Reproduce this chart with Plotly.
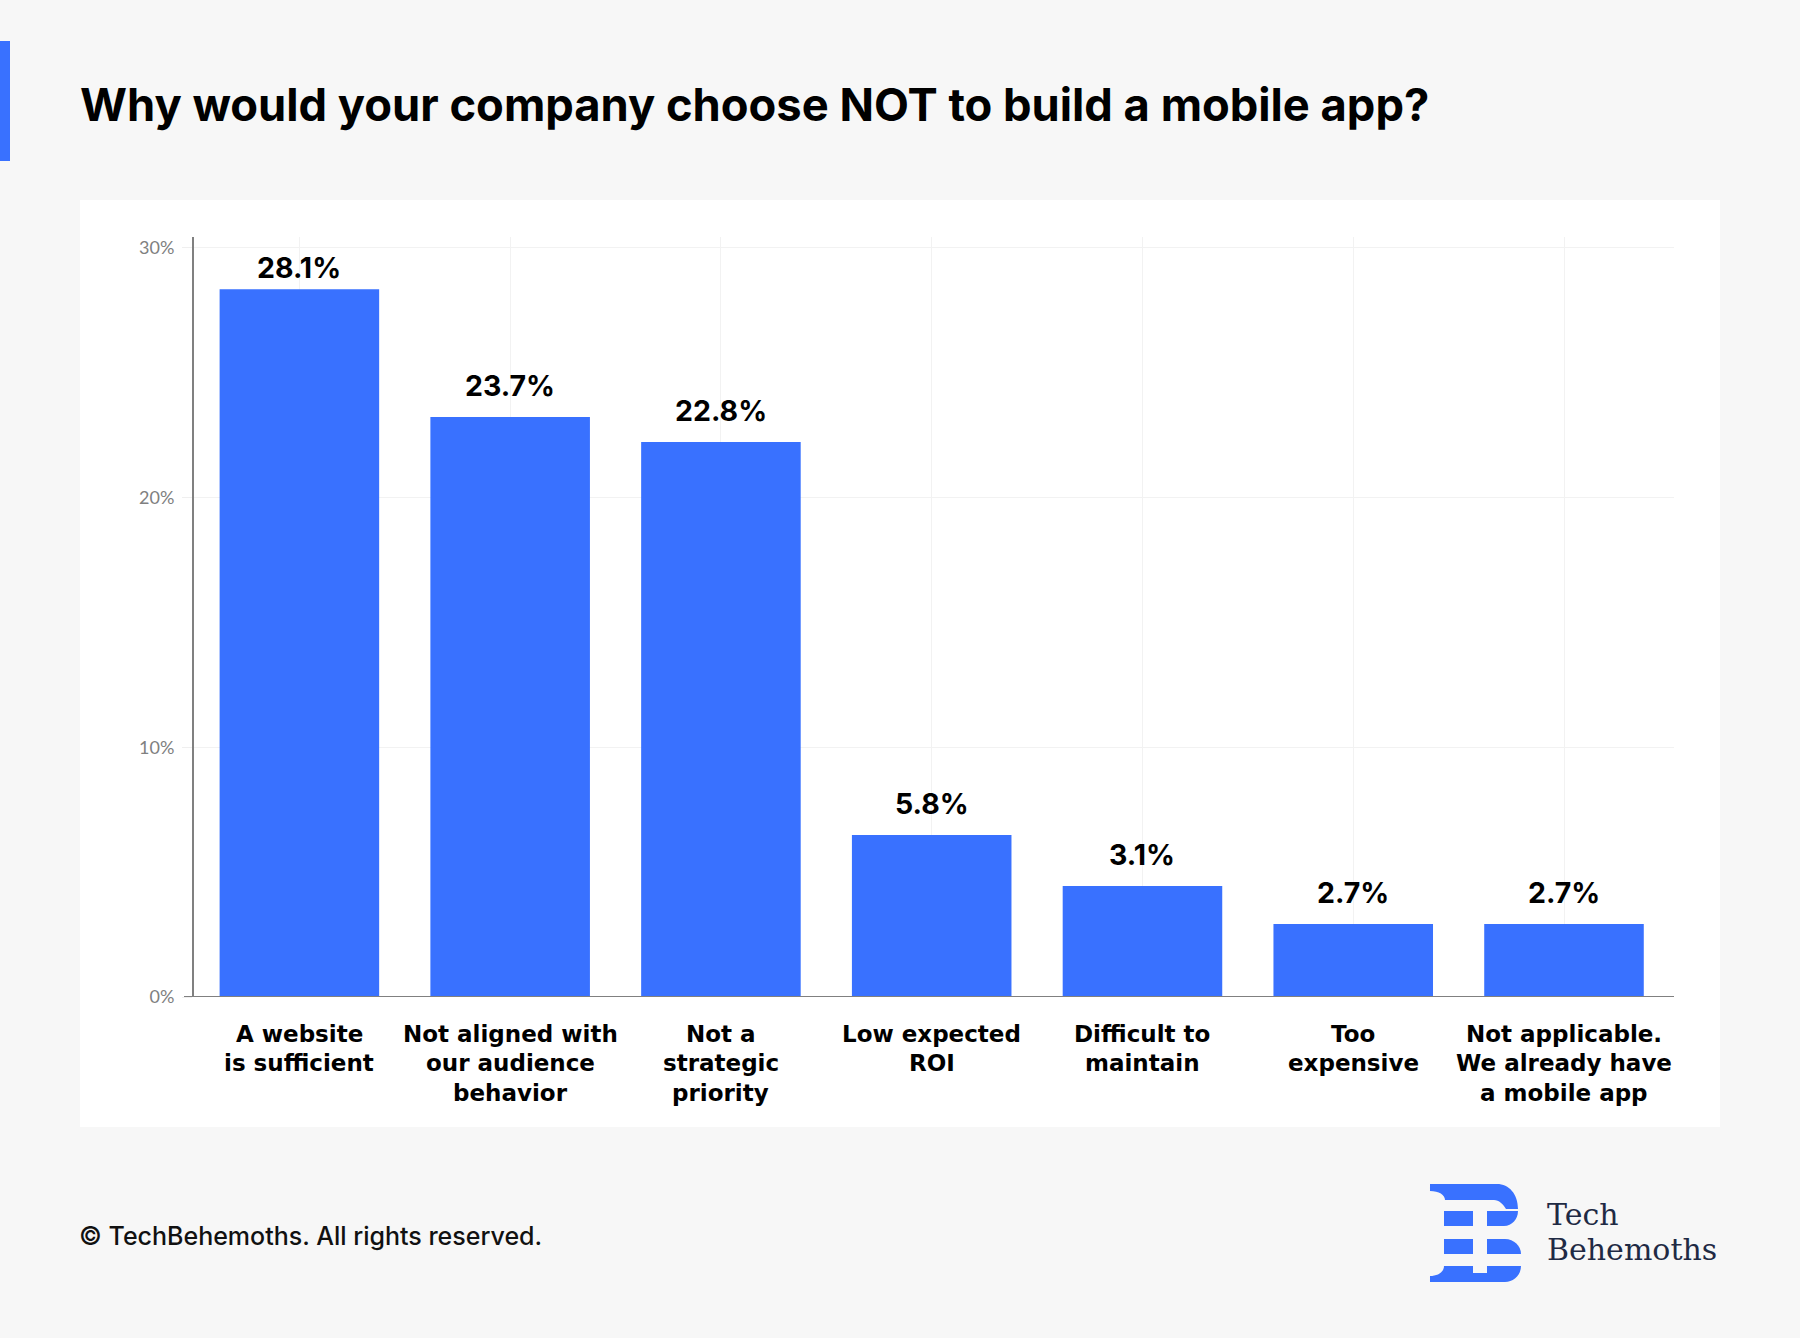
import plotly.graph_objects as go

W, H = 1800, 1338
H_EFF = 1327  # effective rendered height used for paper-coordinate conversion

# ---- data ----
categories = [
    "A website<br>is sufficient",
    "Not aligned with<br>our audience<br>behavior",
    "Not a<br>strategic<br>priority",
    "Low expected<br>ROI",
    "Difficult to<br>maintain",
    "Too<br>expensive",
    "Not applicable.<br>We already have<br>a mobile app",
]
bar_heights = [28.35, 23.23, 22.23, 6.49, 4.45, 2.92, 2.92]
value_labels = ["28.1%", "23.7%", "22.8%", "5.8%", "3.1%", "2.7%", "2.7%"]
y_tickvals = [0, 10, 20, 30]
y_ticktext = ["0%", "10%", "20%", "30%"]
title_text = "Why would your company choose NOT to build a mobile app?"
footer_text = "© TechBehemoths. All rights reserved."
brand_lines = ["Tech", "Behemoths"]

BLUE = "#3971FF"
GREY = "#808080"


def px(x):
    return x / W


def py(y):
    return 1 - y / H_EFF


def P(x, y):
    return f"{px(x):.5f},{py(y):.5f}"


fig = go.Figure()
fig.add_trace(go.Bar(
    x=categories,
    y=bar_heights,
    marker=dict(color=BLUE, line=dict(width=0)),
    hoverinfo="skip",
))

shapes = []
# left accent
shapes.append(dict(type="rect", xref="paper", yref="paper",
                   x0=px(0), x1=px(10), y0=py(160), y1=py(40),
                   fillcolor=BLUE, line=dict(width=0), layer="below"))
# white card
shapes.append(dict(type="rect", xref="paper", yref="paper",
                   x0=px(80), x1=px(1720), y0=py(1126), y1=py(199),
                   fillcolor="white", line=dict(width=0), layer="below"))
# baseline
shapes.append(dict(type="line", xref="paper", yref="y",
                   x0=px(184), x1=px(1674), y0=0, y1=0,
                   line=dict(color=GREY, width=2), layer="above"))

# logo pieces
logo_paths = [
    f"M{P(1430,1183)} L{P(1497,1183)} C{P(1509,1183)} {P(1518,1193)} {P(1518,1208)} "
    f"L{P(1506,1208)} C{P(1503,1203)} {P(1499,1199)} {P(1494,1199)} L{P(1445,1199)} "
    f"C{P(1445,1194)} {P(1439,1190)} {P(1430,1190)} Z",
    f"M{P(1444,1210)} L{P(1473,1210)} L{P(1473,1225)} L{P(1444,1225)} Z",
    f"M{P(1487,1210)} L{P(1518,1210)} C{P(1518,1218)} {P(1512,1225)} {P(1504,1225)} L{P(1487,1225)} Z",
    f"M{P(1444,1238)} L{P(1473,1238)} L{P(1473,1253)} L{P(1444,1253)} Z",
    f"M{P(1487,1238)} L{P(1505,1238)} C{P(1514,1238)} {P(1521,1245)} {P(1521,1253)} L{P(1487,1253)} Z",
    f"M{P(1430,1281)} L{P(1505,1281)} C{P(1514,1281)} {P(1521,1274)} {P(1521,1265)} L{P(1487,1265)} "
    f"L{P(1487,1272)} L{P(1473,1272)} L{P(1473,1265)} L{P(1444,1265)} "
    f"C{P(1444,1271)} {P(1438,1275)} {P(1430,1275)} Z",
]
for p in logo_paths:
    shapes.append(dict(type="path", xref="paper", yref="paper", path=p,
                       fillcolor=BLUE, line=dict(width=0), layer="above"))

annotations = []
# title
annotations.append(dict(text=f"<b>{title_text}</b>", xref="paper", yref="paper",
                        x=px(78), y=py(103), xanchor="left", yanchor="middle",
                        showarrow=False,
                        font=dict(family="Inter", size=45.3, color="#000000")))
# footer
annotations.append(dict(text=footer_text, xref="paper", yref="paper",
                        x=px(77), y=py(1235), xanchor="left", yanchor="middle",
                        showarrow=False,
                        font=dict(family="Inter", size=25, color="#111111", weight=500)))
# brand text
for i, line in enumerate(brand_lines):
    annotations.append(dict(text=line, xref="paper", yref="paper",
                            x=px(1545), y=py(1213 + i * 35), xanchor="left", yanchor="middle",
                            showarrow=False,
                            font=dict(family="DejaVu Serif", size=30, color="#1f2a44")))
# value labels
for cat, v, lab in zip(categories, bar_heights, value_labels):
    shift = 12 if v < 27 else 2
    annotations.append(dict(text=f"<b>{lab}</b>", xref="x", yref="y", x=cat, y=v,
                            xanchor="center", yanchor="bottom", yshift=shift,
                            showarrow=False,
                            font=dict(family="Inter", size=28.5, color="#000000")))
# category labels (one annotation per line)
for cat in categories:
    for j, line in enumerate(cat.split("<br>")):
        annotations.append(dict(text=f"<b>{line}</b>", xref="x", yref="paper", x=cat,
                                y=py(1033 + j * 29.3), xanchor="center", yanchor="middle",
                                showarrow=False,
                                font=dict(family="DejaVu Sans", size=23, color="#000000")))

fig.update_layout(
    width=W, height=H,
    margin=dict(l=0, r=0, t=0, b=0),
    paper_bgcolor="#f7f7f7",
    plot_bgcolor="rgba(0,0,0,0)",
    showlegend=False,
    bargap=0.243,
    shapes=shapes,
    annotations=annotations,
    xaxis=dict(domain=[px(194), px(1674)], showticklabels=False, ticks="",
               showgrid=True, gridcolor="#f2f2f2", gridwidth=1,
               showline=False, zeroline=False, fixedrange=True),
    yaxis=dict(domain=[py(996), py(236)], range=[0, 30.44],
               tickvals=y_tickvals, ticktext=y_ticktext,
               tickfont=dict(family="Lato", size=18, color=GREY),
               ticks="outside", ticklen=10, tickcolor="#efefef", tickwidth=1,
               ticklabelstandoff=4,
               showgrid=True, gridcolor="#f2f2f2", gridwidth=1,
               showline=True, linecolor=GREY, linewidth=2,
               zeroline=False, fixedrange=True),
)

fig.write_html("out.html")
